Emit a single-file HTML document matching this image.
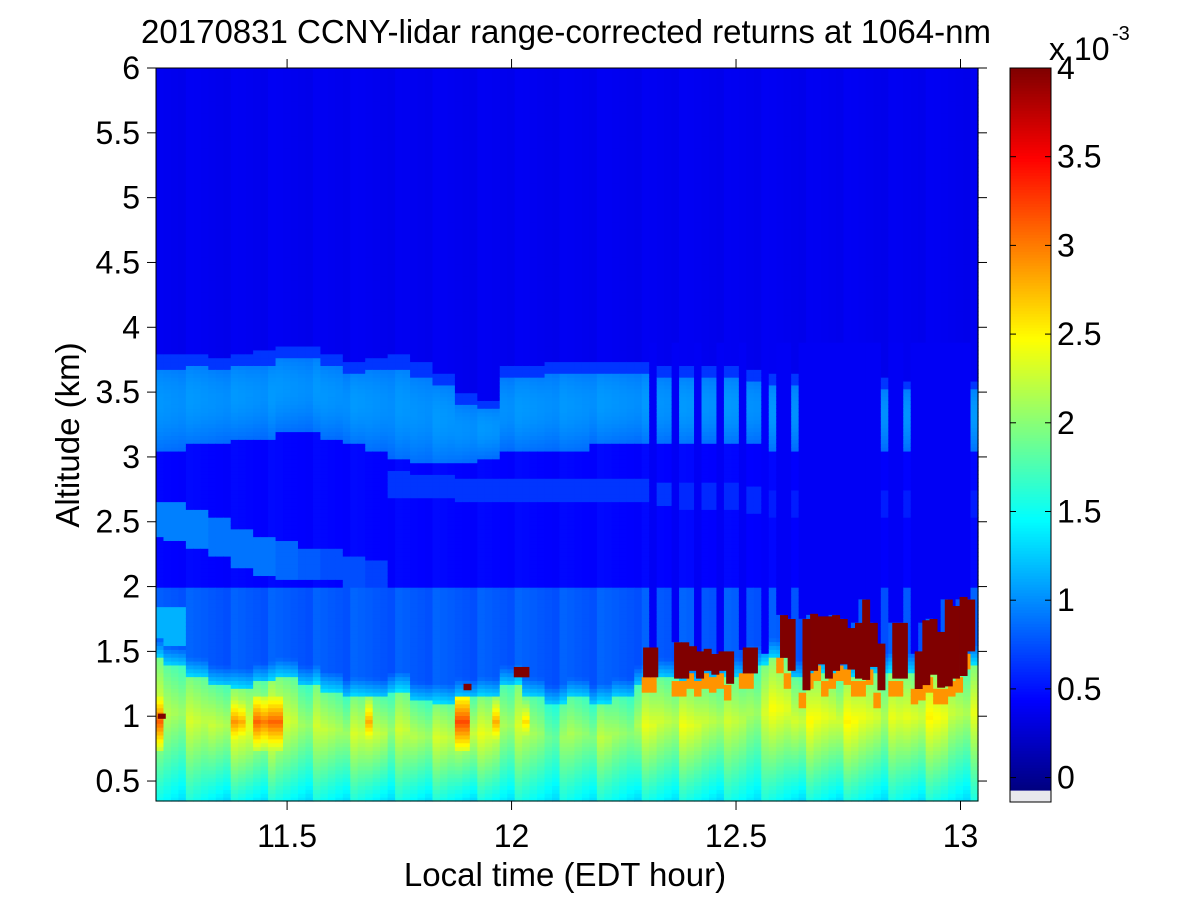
<!DOCTYPE html>
<html><head><meta charset="utf-8"><style>
html,body{margin:0;padding:0;background:#fff;}
svg{display:block;font-family:"Liberation Sans",Arial,sans-serif;}
</style></head><body>
<svg id="chart" width="1200" height="900" viewBox="0 0 1200 900" xmlns="http://www.w3.org/2000/svg">
<rect x="0" y="0" width="1200" height="900" fill="#fff"/>
<g id="heat"></g>
<g id="clouds"></g>
<g id="axes"></g>
<g id="cbar"></g>
<text x="566" y="43" text-anchor="middle" font-size="33">20170831 CCNY-lidar range-corrected returns at 1064-nm</text>
<text x="565" y="886" text-anchor="middle" font-size="33">Local time (EDT hour)</text>
<text x="0" y="0" transform="translate(79,435) rotate(-90)" text-anchor="middle" font-size="33">Altitude (km)</text>
</svg>
<script>
// ---- data (coarse profile parameters every 0.05 h starting 11.20) ----
const coarseT0 = 11.20;
const coarseStep = 0.05;
const pblTop = [1.45,1.40,1.30,1.25,1.22,1.27,1.30,1.25,1.20,1.15,1.15,1.20,1.12,1.10,1.15,1.15,1.25,1.15,1.10,1.15,1.10,1.15,1.25,1.30,1.25,1.30,1.30,1.40,1.45,1.30,1.35,1.30,1.35,1.35,1.35,1.35,1.40];
const pblPeak = [2.3,2.2,2.2,2.3,2.4,2.4,2.3,2.2,2.2,2.2,2.3,2.2,2.2,2.2,2.4,2.3,2.2,2.1,2.0,2.1,2.1,2.1,2.3,2.3,2.3,2.3,2.2,2.2,2.4,2.4,2.4,2.4,2.4,2.3,2.4,2.4,2.3];
const layerTop = [3.80,3.80,3.80,3.78,3.80,3.82,3.85,3.85,3.80,3.75,3.78,3.80,3.75,3.65,3.50,3.45,3.70,3.72,3.75,3.75,3.75,3.75,3.75,3.72,3.70,3.70,3.70,3.68,3.65,3.65,3.65,3.65,3.62,3.62,3.60,3.60,3.60];
const layerBot = [3.05,3.05,3.10,3.10,3.15,3.15,3.20,3.20,3.15,3.10,3.05,3.00,2.95,2.95,2.95,3.00,3.05,3.05,3.05,3.05,3.10,3.10,3.10,3.10,3.10,3.10,3.10,3.10,3.05,3.05,3.05,3.05,3.05,3.05,3.05,3.05,3.05];
const band2Top = [2.65,2.65,2.60,2.55,2.45,2.40,2.35,2.30,2.30,2.25,2.20,2.90,2.88,2.88,2.85,2.85,2.85,2.85,2.85,2.85,2.85,2.85,2.85,2.82,2.80,2.80,2.80,2.78,2.75,2.75,2.75,2.75,2.75,2.75,2.75,2.75,2.75];
const band2Bot = [2.40,2.35,2.30,2.25,2.15,2.10,2.05,2.05,2.05,2.00,2.00,2.70,2.68,2.68,2.65,2.65,2.65,2.65,2.65,2.65,2.65,2.65,2.65,2.62,2.60,2.60,2.60,2.58,2.55,2.55,2.55,2.55,2.55,2.55,2.55,2.55,2.55];
const band2Val = [0.95,0.95,0.95,0.9,0.9,0.9,0.85,0.8,0.75,0.75,0.7,0.65,0.65,0.65,0.65,0.65,0.65,0.65,0.65,0.65,0.65,0.65,0.65,0.65,0.6,0.6,0.6,0.6,0.55,0.55,0.55,0.55,0.55,0.55,0.55,0.55,0.55];
// hotspot columns in the boundary layer
const hotT = [11.212,11.38,11.395,11.43,11.445,11.475,11.69,11.89,11.905,11.96,12.03];
const hotV = [3.1,2.9,2.8,3.1,3.0,3.1,2.8,3.2,2.9,2.8,2.6];
// cloud columns: start time (h), top (km), base (km)
const cloudT =   [11.212,11.893,12.005,12.022,12.293,12.309,12.362,12.378,12.395,12.411,12.428,12.445,12.461,12.478,12.515,12.531,12.598,12.615,12.648,12.665,12.681,12.698,12.714,12.731,12.748,12.765,12.781,12.798,12.815,12.848,12.865,12.898,12.915,12.931,12.948,12.965,12.981,12.998,13.015];
const cloudTop = [1.02,1.25,1.38,1.38,1.53,1.53,1.57,1.57,1.54,1.50,1.52,1.48,1.50,1.50,1.53,1.53,1.78,1.75,1.75,1.79,1.77,1.77,1.78,1.75,1.68,1.72,1.90,1.72,1.56,1.72,1.72,1.50,1.74,1.75,1.65,1.90,1.85,1.92,1.90];
const cloudBot = [0.98,1.20,1.30,1.30,1.30,1.30,1.29,1.29,1.35,1.29,1.35,1.32,1.35,1.25,1.33,1.33,1.45,1.35,1.20,1.35,1.40,1.29,1.35,1.40,1.36,1.29,1.28,1.38,1.20,1.29,1.29,1.21,1.24,1.32,1.22,1.23,1.29,1.31,1.50];
const xTicks = [11.5,12,12.5,13];
const xTickLabels = ["11.5","12","12.5","13"];
const yTicks = [0.5,1,1.5,2,2.5,3,3.5,4,4.5,5,5.5,6];
const yTickLabels = ["0.5","1","1.5","2","2.5","3","3.5","4","4.5","5","5.5","6"];
const cTicks = [0,0.5,1,1.5,2,2.5,3,3.5,4];
const cTickLabels = ["0","0.5","1","1.5","2","2.5","3","3.5","4"];

// ---- scales ----
const PL=156, PR=978, PT=68, PB=801;
const T0=11.208, T1=13.039, Z0=0.346, Z1=6.0;
const xs = t => PL + (t-T0)/(T1-T0)*(PR-PL);
const ys = z => PB - (z-Z0)/(Z1-Z0)*(PB-PT);
const CMIN=-0.07, CMAX=4.0;
function jet(v){
  let n=(v-CMIN)/(CMAX-CMIN); n=Math.max(0,Math.min(1,n));
  const c=x=>Math.round(255*Math.max(0,Math.min(1,x)));
  return `rgb(${c(1.5-Math.abs(4*n-3))},${c(1.5-Math.abs(4*n-2))},${c(1.5-Math.abs(4*n-1))})`;
}
const NS="http://www.w3.org/2000/svg";
function mk(tag,attrs,parent){const e=document.createElementNS(NS,tag);for(const k in attrs)e.setAttribute(k,attrs[k]);parent.appendChild(e);return e;}

function coarse(arr,t){let k=Math.round((t-coarseT0)/coarseStep);k=Math.max(0,Math.min(arr.length-1,k));return arr[k];}
function cloudAt(t){for(let i=4;i<cloudT.length;i++){if(t>=cloudT[i]-0.002&&t<cloudT[i]+0.0147)return i;}return -1;}
function hotAt(t){for(let i=0;i<hotT.length;i++){if(Math.abs(t-hotT[i])<0.009)return i;}return -1;}

function value(t,z,i,j){
  const top=coarse(pblTop,t);
  let pk=coarse(pblPeak,t);
  const lt=coarse(layerTop,t), lb=coarse(layerBot,t);
  const bt=coarse(band2Top,t), bb=coarse(band2Bot,t), bv=coarse(band2Val,t);
  const tex=(((i*53+7)%11)/11-0.5);
  const h=hotAt(t);
  let v;
  if(z<top){
    const f=(z-Z0)/(top-Z0);
    if(f<0.65) v=1.45+(pk-1.45)*(f/0.65);
    else v=pk-(pk-1.45)*((f-0.65)/0.35)*0.5;
    v+=tex*0.3;
    if(h>=0 && z>0.75 && z<1.17) v=Math.max(v,hotV[h]-Math.abs(z-0.96)*4);
  } else if(z<top+0.15){
    v=1.3-(z-top)/0.15*0.5+tex*0.15;
  } else if(z<2.0){
    v=0.8+tex*0.1;
    if(t<11.27&&z<1.85&&z>1.5) v=1.15;
  } else if(z<lb){
    v=0.45+tex*0.05;
    if(z>=bb&&z<=bt) v=bv;
  } else if(z<=lt){
    const f=(z-lb)/(lt-lb);
    v=0.88+0.15*Math.sin(f*Math.PI)+tex*0.05;
    if(f>0.85) v=0.65;
  } else {
    v=0.38+tex*0.04;
  }
  const ci=cloudAt(t);
  const stripe = t>12.3 && (i%3===0);
  if(ci>=0){
    if(z>cloudTop[ci] && z<3.9 && (t>12.58 || stripe)) v=0.4;
    else if(z<cloudBot[ci] && z>cloudBot[ci]-0.12) v=2.9;
  } else if(stripe && z>1.5 && z<3.85) v=Math.min(v,0.42);
  return v;
}

// ---- heatmap ----
const heat=document.getElementById('heat');
const dT=(T1-T0)/110, dZ=0.03;
for(let i=0;i<110;i++){
  const t=T0+i*dT;
  for(let j=0;j*dZ+Z0<Z1;j++){
    const z=Z0+j*dZ;
    const x0=xs(t), x1=xs(t+dT), y0=ys(Math.min(z+dZ,Z1)), y1=ys(z);
    const r=mk('rect',{x:x0.toFixed(2),y:y0.toFixed(2),width:(x1-x0+0.6).toFixed(2),height:(y1-y0+0.6).toFixed(2),fill:jet(value(t+dT/2,z+dZ/2,i,j))},heat);
    
    
  }
}
// ---- cloud marks ----
const cg=document.getElementById('clouds');
for(let k=0;k<cloudT.length;k++){
  const r=mk('rect',{x:xs(cloudT[k]).toFixed(2),y:ys(cloudTop[k]).toFixed(2),width:(xs(cloudT[k]+0.01667)-xs(cloudT[k])+0.5).toFixed(2),height:(ys(cloudBot[k])-ys(cloudTop[k])).toFixed(2),fill:jet(4.2)},cg);
  
  
}
// ---- axes ----
const ax=document.getElementById('axes');
const frame=mk('rect',{x:PL,y:PT,width:PR-PL,height:PB-PT,fill:'none',stroke:'#000','stroke-width':1},ax);


xTicks.forEach((v,k)=>{
  const x=xs(v);
  mk('line',{x1:x,x2:x,y1:PB,y2:PB+9,stroke:'#000'},ax);
  mk('line',{x1:x,x2:x,y1:PT,y2:PT-9,stroke:'#000'},ax);
  const tx=mk('text',{x:x,y:847,'text-anchor':'middle','font-size':32},ax);
  tx.textContent=xTickLabels[k];
  
  
});
yTicks.forEach((v,k)=>{
  const y=ys(v);
  mk('line',{x1:PL,x2:PL-9,y1:y,y2:y,stroke:'#000'},ax);
  mk('line',{x1:PR,x2:PR+9,y1:y,y2:y,stroke:'#000'},ax);
  const tx=mk('text',{x:140,y:y+11,'text-anchor':'end','font-size':32},ax);
  tx.textContent=yTickLabels[k];
  
  
});
// ---- colorbar ----
const cb=document.getElementById('cbar');
const CL=1010, CR=1051, CT=68, CBt=790;
const cy=v=>CBt-(v-CMIN)/(CMAX-CMIN)*(CBt-CT);
const grey=mk('rect',{x:CL,y:CBt,width:CR-CL,height:12,fill:'#e8e8ec'},cb);


for(let k=0;k<256;k++){
  const v0=CMIN+k/256*(CMAX-CMIN), v1=CMIN+(k+1)/256*(CMAX-CMIN);
  const r=mk('rect',{x:CL,y:cy(v1).toFixed(2),width:CR-CL,height:(cy(v0)-cy(v1)+0.6).toFixed(2),fill:jet((v0+v1)/2)},cb);
  
  
}
mk('rect',{x:CL,y:CT,width:CR-CL,height:802-CT,fill:'none',stroke:'#000'},cb);
cTicks.forEach((v,k)=>{
  const y=cy(v);
  mk('line',{x1:CL,x2:CL+6,y1:y,y2:y,stroke:'#000'},cb);
  mk('line',{x1:CR,x2:CR-6,y1:y,y2:y,stroke:'#000'},cb);
  const tx=mk('text',{x:CR+6,y:y+11,'font-size':32},cb);
  tx.textContent=cTickLabels[k];
  
  
});
const ex=mk('text',{x:1049,y:60,'font-size':32},cb);
ex.textContent='x 10';


const ex2=mk('text',{x:1112,y:40,'font-size':20},cb);
ex2.textContent='-3';


</script>
</body></html>
